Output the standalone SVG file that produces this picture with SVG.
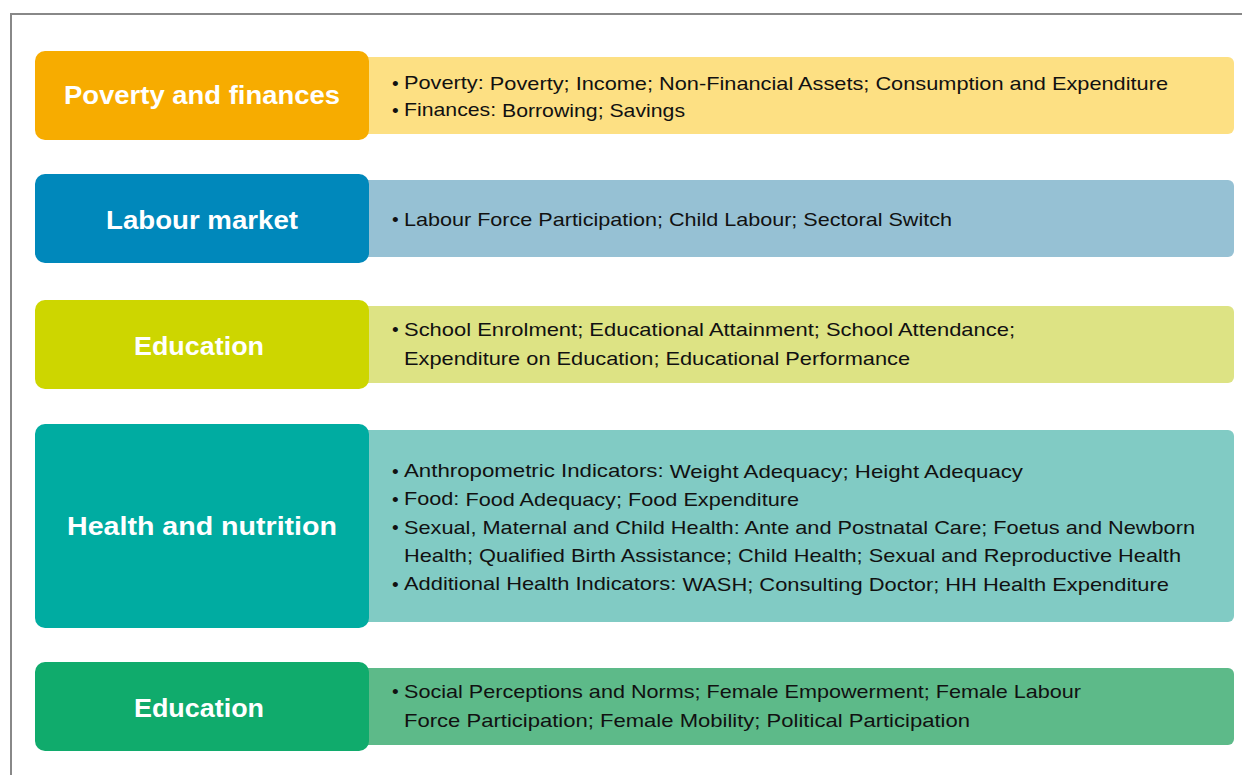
<svg xmlns="http://www.w3.org/2000/svg" width="1242" height="775" viewBox="0 0 1242 775">
<style>
.lbl{font-family:"Liberation Sans",Arial,sans-serif;font-weight:bold;font-size:26px;fill:#fff;text-anchor:middle}
.bd{font-family:"Liberation Sans",Arial,sans-serif;font-size:19px;fill:#111}
.k{baseline-shift:1.5px}
.frame{fill:none;stroke:#888;stroke-width:2}
</style>
<rect width="1242" height="775" fill="#fff"/>
<path class="frame" d="M11 776 V14 H1243"/>
<g id="row1">
<rect x="360" y="57" width="874" height="77" rx="6" fill="#FDE083"/>
<rect x="35" y="51" width="334" height="89" rx="10" fill="#F7AC00"/>
<text class="lbl" x="202" y="104" textLength="276" lengthAdjust="spacingAndGlyphs">Poverty and finances</text>
<text class="bd" x="392" y="90">•</text>
<text class="bd" x="404" y="90" textLength="764" lengthAdjust="spacingAndGlyphs"><tspan class="k">Poverty:</tspan> Poverty; Income; Non-Financial Assets; Consumption and Expenditure</text>
<text class="bd" x="392" y="117">•</text>
<text class="bd" x="404" y="117" textLength="281" lengthAdjust="spacingAndGlyphs"><tspan class="k">Finances:</tspan> Borrowing; Savings</text>
</g>
<g id="row2">
<rect x="360" y="180" width="874" height="77" rx="6" fill="#96C1D4"/>
<rect x="35" y="174" width="334" height="89" rx="10" fill="#0088BB"/>
<text class="lbl" x="202" y="229" textLength="192" lengthAdjust="spacingAndGlyphs">Labour market</text>
<text class="bd" x="392" y="226">•</text>
<text class="bd" x="404" y="226" textLength="548" lengthAdjust="spacingAndGlyphs">Labour Force Participation; Child Labour; Sectoral Switch</text>
</g>
<g id="row3">
<rect x="360" y="306" width="874" height="77" rx="6" fill="#DDE384"/>
<rect x="35" y="300" width="334" height="89" rx="10" fill="#CDD600"/>
<text class="lbl" x="199" y="355" textLength="130" lengthAdjust="spacingAndGlyphs">Education</text>
<text class="bd" x="392" y="336">•</text>
<text class="bd" x="404" y="336" textLength="611" lengthAdjust="spacingAndGlyphs">School Enrolment; Educational Attainment; School Attendance;</text>
<text class="bd" x="404" y="365" textLength="506" lengthAdjust="spacingAndGlyphs">Expenditure on Education; Educational Performance</text>
</g>
<g id="row4">
<rect x="360" y="430" width="874" height="192" rx="6" fill="#81CBC4"/>
<rect x="35" y="424" width="334" height="204" rx="10" fill="#00ACA1"/>
<text class="lbl" x="202" y="535" textLength="270" lengthAdjust="spacingAndGlyphs">Health and nutrition</text>
<text class="bd" x="392" y="478">•</text>
<text class="bd" x="404" y="478" textLength="619" lengthAdjust="spacingAndGlyphs"><tspan class="k">Anthropometric Indicators:</tspan> Weight Adequacy; Height Adequacy</text>
<text class="bd" x="392" y="506">•</text>
<text class="bd" x="404" y="506" textLength="395" lengthAdjust="spacingAndGlyphs"><tspan class="k">Food:</tspan> Food Adequacy; Food Expenditure</text>
<text class="bd" x="392" y="534">•</text>
<text class="bd" x="404" y="534" textLength="791" lengthAdjust="spacingAndGlyphs">Sexual, Maternal and Child Health: Ante and Postnatal Care; Foetus and Newborn</text>
<text class="bd" x="404" y="562" textLength="777" lengthAdjust="spacingAndGlyphs">Health; Qualified Birth Assistance; Child Health; Sexual and Reproductive Health</text>
<text class="bd" x="392" y="591">•</text>
<text class="bd" x="404" y="591" textLength="765" lengthAdjust="spacingAndGlyphs"><tspan class="k">Additional Health Indicators:</tspan> WASH; Consulting Doctor; HH Health Expenditure</text>
</g>
<g id="row5">
<rect x="360" y="668" width="874" height="77" rx="6" fill="#5DBA89"/>
<rect x="35" y="662" width="334" height="89" rx="10" fill="#10AB6C"/>
<text class="lbl" x="199" y="717" textLength="130" lengthAdjust="spacingAndGlyphs">Education</text>
<text class="bd" x="392" y="698">•</text>
<text class="bd" x="404" y="698" textLength="677" lengthAdjust="spacingAndGlyphs">Social Perceptions and Norms; Female Empowerment; Female Labour</text>
<text class="bd" x="404" y="727" textLength="566" lengthAdjust="spacingAndGlyphs">Force Participation; Female Mobility; Political Participation</text>
</g>
</svg>
